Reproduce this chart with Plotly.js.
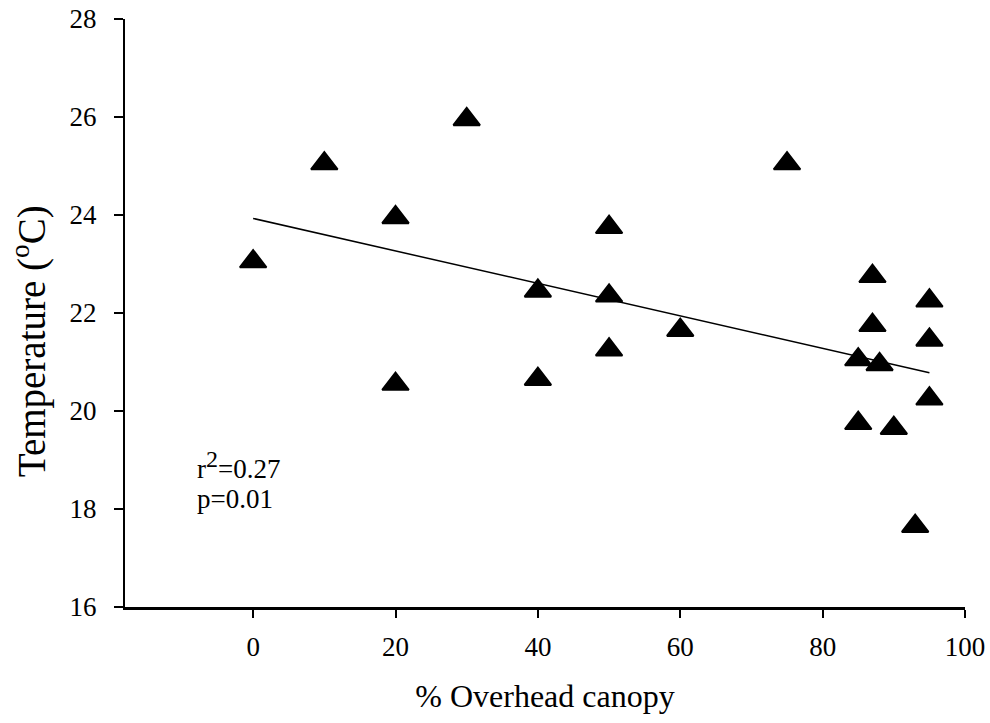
<!DOCTYPE html>
<html>
<head>
<meta charset="utf-8">
<script src="https://cdn.plot.ly/plotly-3.0.1.min.js"></script>
<style>html,body{margin:0;padding:0;background:#fff;}#chart{width:990px;height:723px;}</style>
</head>
<body>
<div id="chart"></div>
<script>
// Data
const canopy = [0, 10, 20, 20, 30, 40, 40, 50, 50, 50, 60, 75, 85, 85, 87, 87, 88, 90, 93, 95, 95, 95];
const temperature = [23.05, 25.05, 23.95, 20.55, 25.95, 22.45, 20.65, 23.75, 22.35, 21.25, 21.65, 25.05, 21.05, 19.75, 22.75, 21.75, 20.95, 19.65, 17.65, 22.25, 21.45, 20.25];
const trendX = [0, 95];
const trendY = [23.93, 20.78];
const xTicks = [0, 20, 40, 60, 80, 100];
const yTicks = [16, 18, 20, 22, 24, 26, 28];
const xTitle = "% Overhead canopy";
const yTitle = "Temperature (<sup>o</sup>C)";
const statsLines = ["r<sup><span style=\"font-size:24px\">2</span></sup>=0.27", "p=0.01"];

const FONT = "Liberation Serif, Times New Roman, serif";

const traces = [
  {
    x: trendX, y: trendY, type: "scatter", mode: "lines",
    line: {color: "#000", width: 1.5}, hoverinfo: "skip", showlegend: false
  },
  {
    x: canopy, y: temperature, type: "scatter", mode: "markers",
    marker: {symbol: "triangle-up", size: 23, color: "#000", line: {color: "#000", width: 2}},
    showlegend: false
  }
];

const layout = {
  width: 990, height: 723,
  paper_bgcolor: "#fff", plot_bgcolor: "#fff",
  margin: {l: 125, r: 25, t: 19, b: 116},
  font: {family: FONT, color: "#000", size: 27},
  showlegend: false,
  xaxis: {
    range: [-18, 100], tickvals: xTicks, ticktext: xTicks.map(String),
    showgrid: false, zeroline: false, showline: true, linecolor: "#000", linewidth: 2.5,
    ticks: "outside", ticklen: 8, tickwidth: 2, tickcolor: "#000",
    tickfont: {family: FONT, size: 27, color: "#000"}, ticklabelstandoff: 6,
    title: {text: xTitle, font: {family: FONT, size: 32, color: "#000"}, standoff: 24}
  },
  yaxis: {
    range: [16, 28], tickvals: yTicks, ticktext: yTicks.map(String),
    showgrid: false, zeroline: false, showline: true, linecolor: "#000", linewidth: 2,
    ticks: "outside", ticklen: 9, tickwidth: 2, tickcolor: "#000",
    tickfont: {family: FONT, size: 27, color: "#000"}, ticklabelstandoff: 12
  },
  annotations: [
    {x: -0.1143, y: 0.452, xref: "paper", yref: "paper", text: yTitle, textangle: -90, showarrow: false,
     xanchor: "center", yanchor: "middle", font: {family: FONT, size: 39, color: "#000"}},
    {x: -8.2, y: 18.89, xref: "x", yref: "y", text: statsLines[0], showarrow: false,
     xanchor: "left", yanchor: "middle", font: {family: FONT, size: 27, color: "#000"}},
    {x: -8.2, y: 18.21, xref: "x", yref: "y", text: statsLines[1], showarrow: false,
     xanchor: "left", yanchor: "middle", font: {family: FONT, size: 27, color: "#000"}}
  ]
};

Plotly.newPlot("chart", traces, layout, {staticPlot: true, displayModeBar: false});
</script>
</body>
</html>
